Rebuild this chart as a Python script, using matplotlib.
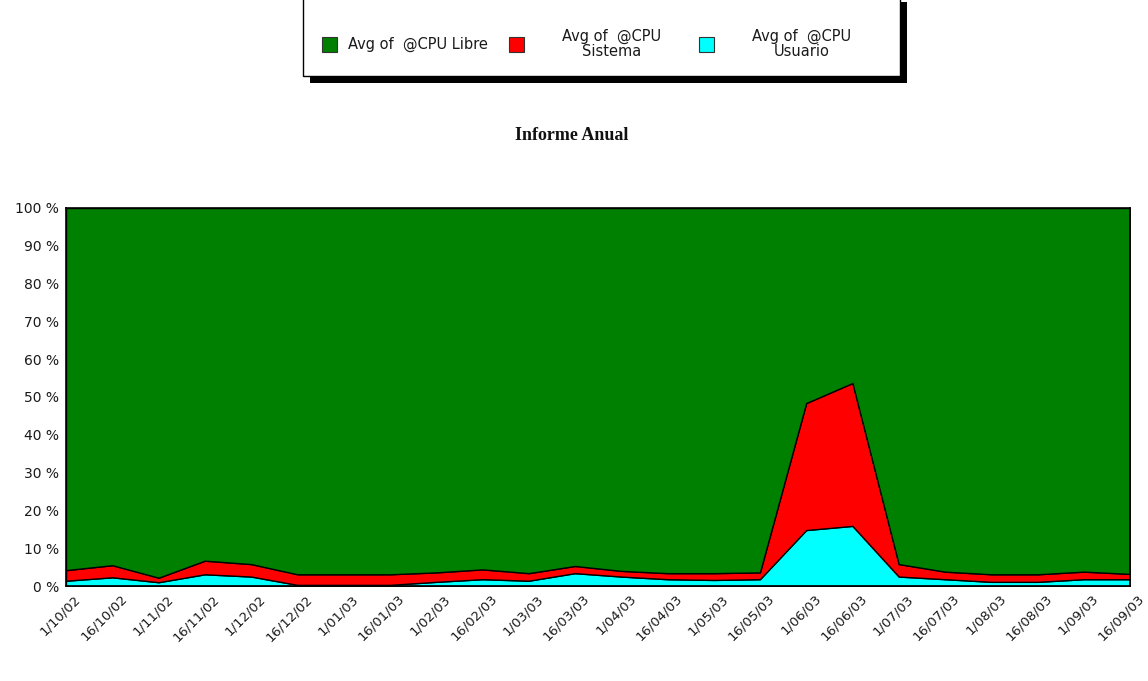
import matplotlib
matplotlib.use("Agg")
import matplotlib.pyplot as plt
from matplotlib.patches import Rectangle
from matplotlib.transforms import ScaledTranslation
import numpy as np

# Half-monthly periods
fechas = ["1/10/02", "16/10/02", "1/11/02", "16/11/02", "1/12/02", "16/12/02",
          "1/01/03", "16/01/03", "1/02/03", "16/02/03", "1/03/03", "16/03/03",
          "1/04/03", "16/04/03", "1/05/03", "16/05/03", "1/06/03", "16/06/03",
          "1/07/03", "16/07/03", "1/08/03", "16/08/03", "1/09/03", "16/09/03"]

# Average CPU share (%) per period
cpu_usuario = [1.4, 2.3, 1.0, 3.1, 2.5, 0.3, 0.3, 0.3, 1.1, 1.8, 1.4, 3.4,
               2.5, 1.8, 1.6, 1.8, 14.8, 15.9, 2.5, 1.8, 1.1, 1.1, 1.8, 1.8]
cpu_sistema = [2.8, 3.2, 1.2, 3.6, 3.3, 2.8, 2.8, 2.8, 2.5, 2.6, 2.0, 1.9,
               1.5, 1.6, 1.8, 1.8, 33.6, 37.8, 3.3, 2.0, 2.0, 2.0, 2.0, 1.4]
cpu_libre = [100 - u - s for u, s in zip(cpu_usuario, cpu_sistema)]

etiquetas_y = ["0 %", "10 %", "20 %", "30 %", "40 %", "50 %",
               "60 %", "70 %", "80 %", "90 %", "100 %"]

nombres = ["Avg of  @CPU Libre", "Avg of  @CPU\nSistema", "Avg of  @CPU\nUsuario"]
colores = {"libre": "#008000", "sistema": "#ff0000", "usuario": "#00ffff"}

W, H = 1148, 681
fig = plt.figure(figsize=(W / 100, H / 100), dpi=100)
fig.patch.set_facecolor("white")

def fx(px):
    return px / W

def fy(py):
    return 1 - py / H

ax = fig.add_axes([fx(66), fy(586), fx(1130) - fx(66), fy(208) - fy(586)])
x = np.arange(len(fechas))
ax.stackplot(x, cpu_usuario, cpu_sistema, cpu_libre,
             colors=[colores["usuario"], colores["sistema"], colores["libre"]],
             edgecolor="black", linewidth=1.0)
ax.set_xlim(0, len(fechas) - 1)
ax.set_ylim(0, 100)

ax.set_yticks(np.arange(0, 101, 10))
ax.set_yticklabels(etiquetas_y, family=["DejaVu Sans"], fontsize=10,
                   color="#1a1a1a")
ax.set_xticks(x)
ax.set_xticklabels(fechas, rotation=45, ha="right", va="top",
                   rotation_mode="anchor", family=["DejaVu Sans"],
                   fontsize=9.5, color="#1a1a1a")
ax.tick_params(axis="y", length=0, pad=5)
ax.tick_params(axis="x", length=0, pad=3)
desplazamiento = ScaledTranslation(0.08, -0.02, fig.dpi_scale_trans)
for lbl in ax.get_xticklabels():
    lbl.set_transform(lbl.get_transform() + desplazamiento)
for side in ax.spines.values():
    side.set_color("black")
    side.set_linewidth(1.2)

# Title
fig.text(fx(572), fy(135), "Informe Anual", ha="center", va="center",
         family=["Liberation Serif", "DejaVu Serif"], fontweight="bold",
         fontsize=13, color="#111111")

# Legend box with drop shadow
L, R, T, B = 303, 900, -5, 76
fig.patches.append(Rectangle((fx(L + 7), fy(B + 7)), fx(R - L), fy(T + 7) - fy(B + 7),
                             transform=fig.transFigure, facecolor="black",
                             edgecolor="none", zorder=1))
fig.patches.append(Rectangle((fx(L), fy(B)), fx(R - L), fy(T) - fy(B),
                             transform=fig.transFigure, facecolor="white",
                             edgecolor="black", linewidth=1.0, zorder=2))

entradas = [(322, 348, "left", nombres[0], colores["libre"]),
            (509, 612, "center", nombres[1], colores["sistema"]),
            (699, 802, "center", nombres[2], colores["usuario"])]
for sx, tx, ha, nombre, col in entradas:
    fig.patches.append(Rectangle((fx(sx), fy(52)), fx(15), fy(37) - fy(52),
                                 transform=fig.transFigure, facecolor=col,
                                 edgecolor="#333333", linewidth=0.8, zorder=3))
    fig.text(fx(tx), fy(44), nombre, ha=ha, va="center", zorder=4,
             linespacing=1.05, family=["DejaVu Sans"], fontsize=10.5,
             color="#1a1a1a")

fig.savefig("out.png", dpi=100)
